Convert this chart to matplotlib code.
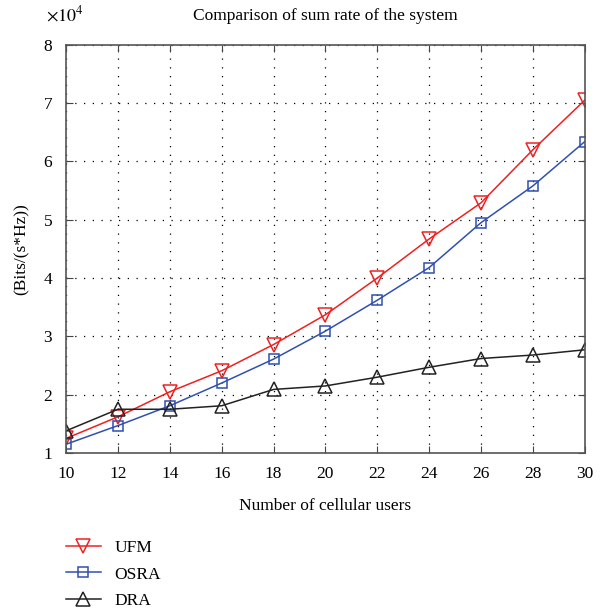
import numpy as np
import matplotlib.pyplot as plt

plt.rcParams['font.family'] = ['Liberation Serif', 'DejaVu Serif']
plt.rcParams['mathtext.fontset'] = 'stix'

# 数据 (单位: 10^4 Bits/(s*Hz))
users = [10, 12, 14, 16, 18, 20, 22, 24, 26, 28, 30]
ufm = [1.25, 1.62, 2.05, 2.41, 2.86, 3.37, 4.00, 4.67, 5.29, 6.20, 7.05]
osra = [1.15, 1.47, 1.81, 2.20, 2.61, 3.09, 3.62, 4.18, 4.95, 5.58, 6.34]
dra = [1.38, 1.75, 1.75, 1.81, 2.09, 2.15, 2.30, 2.47, 2.62, 2.68, 2.77]

fig = plt.figure(figsize=(6.06, 6.13), dpi=100)
ax = fig.add_axes([0.109, 0.261, 0.856, 0.666])

ax.plot(users, ufm, color='#f02020', lw=1.1, marker='v', markersize=9.5,
        markerfacecolor='none', markeredgewidth=1.1, label='UFM')
ax.plot(users, osra, color='#3050b0', lw=1.1, marker='s', markersize=7,
        markerfacecolor='none', markeredgewidth=1.1, label='OSRA')
ax.plot(users, dra, color='#222222', lw=1.1, marker='^', markersize=9.5,
        markerfacecolor='none', markeredgewidth=1.1, label='DRA')

ax.set_xlim(10, 30)
ax.set_ylim(1, 8)
ax.set_xticks(np.arange(10, 31, 2))
ax.set_yticks(np.arange(1, 9, 1))
ax.tick_params(direction='in', top=True, right=True, length=5, labelsize=12.5,
               color='#444444')
ax.tick_params(axis='x', pad=9)
ax.tick_params(axis='y', pad=10)
for s in ax.spines.values():
    s.set_color('#555555')
    s.set_linewidth(1.2)
ax.grid(True, color='black', linestyle=(0, (1, 6)), linewidth=0.9)

ax.set_title('Comparison of sum rate of the system', fontsize=12.5, pad=18)
ax.set_xlabel('Number of cellular users', fontsize=12.5, labelpad=12)
ax.set_ylabel('(Bits/(s*Hz))', fontsize=12.5, labelpad=10)
fig.text(0.076, 0.96, r'$\times 10^4$', fontsize=13, ha='left', va='bottom')

fig.legend(loc='upper left', bbox_to_anchor=(0.109, 0.12), frameon=False,
           fontsize=12.5, handlelength=2.0, handletextpad=0.8,
           labelspacing=0.62, borderpad=0, borderaxespad=0)

plt.savefig('out.png', dpi=100)
